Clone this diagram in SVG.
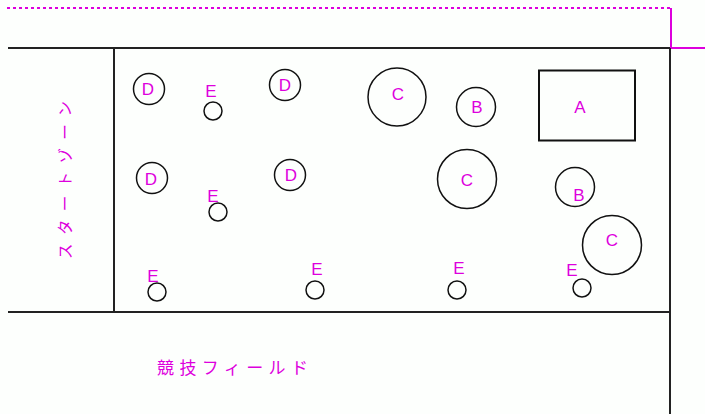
<svg xmlns="http://www.w3.org/2000/svg" width="705" height="414" viewBox="0 0 705 414">
<style>
.frame{stroke:#222;stroke-width:2;fill:none}
.obj{stroke:#111;stroke-width:1.5;fill:none}
.lbl{fill:#dd00dd;font-family:"Liberation Sans",Arial,sans-serif;font-size:17px;text-anchor:middle}
.jp{fill:#dd00dd;font-family:"Noto Sans CJK JP","Noto Sans CJK SC",sans-serif}
</style>
<rect width="705" height="414" fill="#fdfffd"/>
<g id="boundary">
<line x1="7" y1="8" x2="671" y2="8" stroke="#dd00dd" stroke-width="2" stroke-dasharray="3,3"/>
<polyline points="671,8 671,48 705,48" stroke="#dd00dd" stroke-width="2" fill="none"/>
</g>
<g id="frame">
<polyline class="frame" points="8,48 670,48"/>
<line class="frame" x1="670" y1="48" x2="670" y2="414"/>
<line class="frame" x1="114" y1="48" x2="114" y2="312"/>
<line class="frame" x1="8" y1="312" x2="670" y2="312"/>
</g>
<g id="start-zone">
<text class="jp" font-size="15.5" text-anchor="middle" transform="translate(71,180) rotate(-90)" textLength="158" lengthAdjust="spacing">スタートゾーン</text>
</g>
<g id="field-label">
<text class="jp" font-size="17" x="157" y="374" textLength="151" lengthAdjust="spacing">競技フィールド</text>
</g>
<g id="D1"><circle class="obj" cx="149" cy="89" r="15.5"/><text class="lbl" x="148" y="95">D</text></g>
<g id="D2"><circle class="obj" cx="285" cy="85" r="15.5"/><text class="lbl" x="285" y="91">D</text></g>
<g id="D3"><circle class="obj" cx="152" cy="178" r="15.5"/><text class="lbl" x="151" y="185">D</text></g>
<g id="D4"><circle class="obj" cx="290" cy="175" r="15.5"/><text class="lbl" x="291" y="181">D</text></g>
<g id="E1"><circle class="obj" cx="213" cy="111" r="9"/><text class="lbl" x="211" y="97">E</text></g>
<g id="E2"><circle class="obj" cx="218" cy="212" r="9"/><text class="lbl" x="213" y="202">E</text></g>
<g id="E3"><circle class="obj" cx="157" cy="292" r="9"/><text class="lbl" x="153" y="282">E</text></g>
<g id="E4"><circle class="obj" cx="315" cy="290" r="9"/><text class="lbl" x="317" y="275">E</text></g>
<g id="E5"><circle class="obj" cx="457" cy="290" r="9"/><text class="lbl" x="459" y="274">E</text></g>
<g id="E6"><circle class="obj" cx="582" cy="288" r="9"/><text class="lbl" x="572" y="276">E</text></g>
<g id="C1"><circle class="obj" cx="397" cy="97" r="29"/><text class="lbl" x="398" y="100">C</text></g>
<g id="B1"><circle class="obj" cx="476" cy="107" r="19.5"/><text class="lbl" x="477" y="113">B</text></g>
<g id="A"><rect x="539" y="70.5" width="96" height="70" stroke="#111" stroke-width="2" fill="none"/><text class="lbl" x="580" y="113">A</text></g>
<g id="C2"><circle class="obj" cx="467" cy="179" r="29.5"/><text class="lbl" x="467" y="186">C</text></g>
<g id="B2"><circle class="obj" cx="575" cy="187" r="19.5"/><text class="lbl" x="579" y="201">B</text></g>
<g id="C3"><circle class="obj" cx="612" cy="245" r="29.5"/><text class="lbl" x="612" y="246">C</text></g>
<g id="connectors"></g>
</svg>
